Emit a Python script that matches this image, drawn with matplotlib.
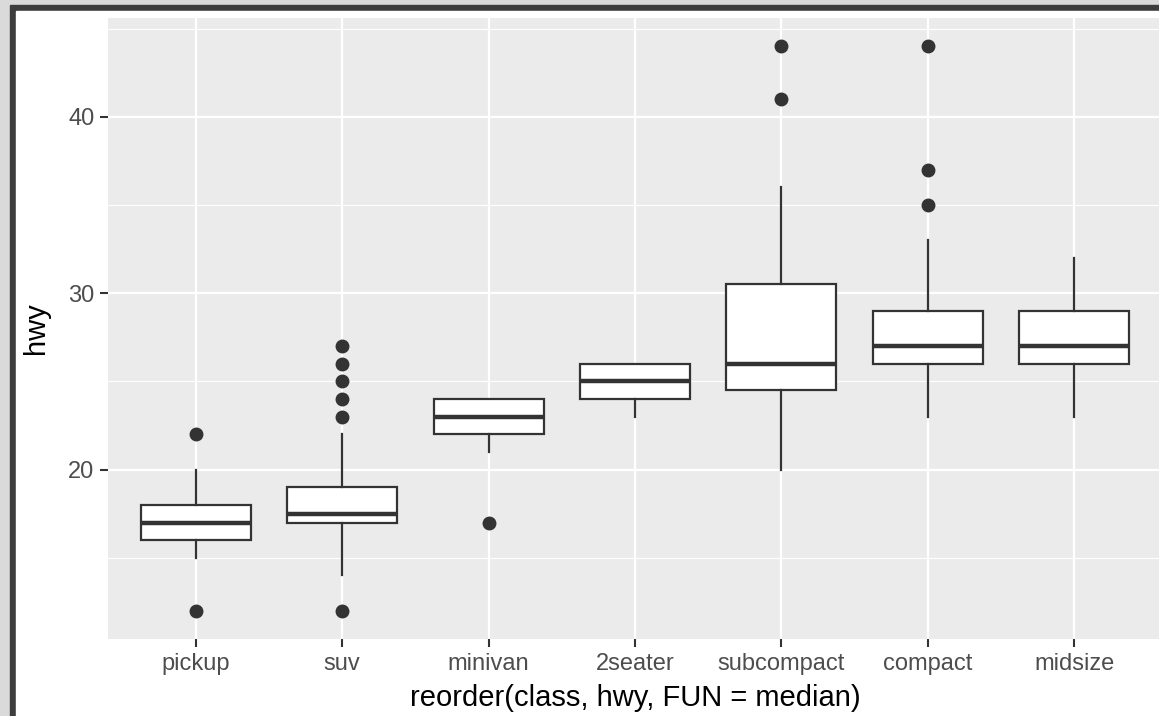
import matplotlib.pyplot as plt
from matplotlib.patches import Rectangle

# mpg highway mileage summary per class, ordered by median
classes = ['pickup', 'suv', 'minivan', '2seater', 'subcompact', 'compact', 'midsize']
q1 = [16, 17, 22, 24, 24.5, 26, 26]
med = [17, 17.5, 23, 25, 26, 27, 27]
q3 = [18, 19, 24, 26, 30.5, 29, 29]
whislo = [15, 14, 21, 23, 20, 23, 23]
whishi = [20, 22, 24, 26, 36, 33, 32]
outliers = [
    [12, 22],
    [12, 23, 24, 25, 26, 27],
    [17],
    [],
    [41, 44],
    [35, 37, 44],
    [],
]

W, H = 1159, 716
fig = plt.figure(figsize=(W / 100, H / 100), dpi=100)
plt.rcParams['font.family'] = ['Liberation Sans', 'DejaVu Sans']

# screenshot frame
fig.patches.append(Rectangle((0, 0), 1, 1, transform=fig.transFigure, color='#dadada', zorder=-3))
fig.patches.append(Rectangle((10 / W, 0), 1, 1 - 5 / H, transform=fig.transFigure, color='#3d3d3d', zorder=-2))
fig.patches.append(Rectangle((16 / W, 0), 1, 1 - 11 / H, transform=fig.transFigure, color='white', zorder=-1))

ax = fig.add_axes([108 / W, 77 / H, 1054 / W, 621 / H])
ax.set_facecolor('#ebebeb')

stats = []
for i, c in enumerate(classes):
    stats.append(dict(label=c, q1=q1[i], med=med[i], q3=q3[i],
                      whislo=whislo[i], whishi=whishi[i], fliers=outliers[i]))

dark = '#333333'
ax.bxp(stats, positions=range(1, len(classes) + 1), widths=0.75, patch_artist=True,
       showcaps=False,
       boxprops=dict(facecolor='white', edgecolor=dark, linewidth=1.6),
       medianprops=dict(color=dark, linewidth=3.2, solid_capstyle='butt'),
       whiskerprops=dict(color=dark, linewidth=1.6),
       flierprops=dict(marker='o', markerfacecolor=dark, markeredgecolor=dark, markersize=9))

ax.set_xlim(0.4, 7.6)
ax.set_ylim(10.4, 45.6)
ax.set_yticks([20, 30, 40])
ax.set_yticks([15, 25, 35, 45], minor=True)

ax.grid(True, which='major', color='white', linewidth=1.6)
ax.grid(True, which='minor', axis='y', color='white', linewidth=0.8)
ax.set_axisbelow(True)
for s in ax.spines.values():
    s.set_visible(False)

ax.tick_params(axis='both', which='major', colors='#333333', length=5.8, width=1.5,
               labelsize=17, labelcolor='#4d4d4d', pad=4)
ax.tick_params(which='minor', length=0)

ax.set_xlabel('reorder(class, hwy, FUN = median)', fontsize=21, color='black', labelpad=7)
ax.set_ylabel('hwy', fontsize=21, color='black', labelpad=13)

fig.savefig('out.png', dpi=100)
